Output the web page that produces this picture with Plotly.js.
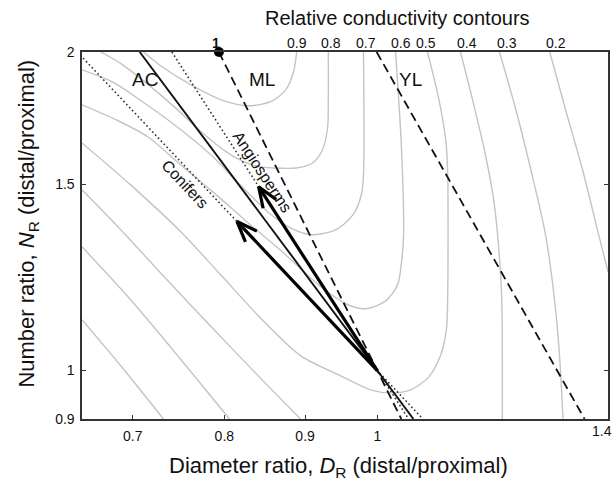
<!DOCTYPE html>
<html><head><meta charset="utf-8">
<script src="https://cdn.plot.ly/plotly-3.0.1.min.js"></script>
<style>html,body{margin:0;padding:0;background:#fff}#chart{width:615px;height:484px}</style>
</head><body><div id="chart"></div>
<script>
// ---- axes ----
const xRange = [0.65, 1.4];
const yRange = [0.9, 2];
const xTickVals = [0.7, 0.8, 0.9, 1, 1.4];
const xTickText = ['0.7', '0.8', '0.9', '1', ''];
const xEdgeLabel = '1.4';   // last x tick label, drawn right-aligned at the plot edge
const yTickVals = [0.9, 1, 1.5, 2];
const yTickText = ['0.9', '1', '1.5', '2'];

// ---- relative conductivity contours ----
const c09X = [0.711, 0.729, 0.762, 0.799, 0.828, 0.856, 0.875, 0.885, 0.889];
const c09Y = [2.0, 1.941, 1.862, 1.799, 1.779, 1.795, 1.842, 1.916, 2.0];
const c08X = [0.668, 0.688, 0.715, 0.745, 0.773, 0.807, 0.837, 0.860, 0.888, 0.910, 0.923, 0.930, 0.931, 0.931];
const c08Y = [2.0, 1.950, 1.866, 1.771, 1.682, 1.600, 1.561, 1.554, 1.554, 1.571, 1.616, 1.696, 1.803, 2.0];
const c07X = [0.650, 0.679, 0.713, 0.748, 0.784, 0.819, 0.852, 0.881, 0.907, 0.941, 0.965, 0.977, 0.980, 0.980];
const c07Y = [1.924, 1.875, 1.787, 1.696, 1.600, 1.497, 1.413, 1.364, 1.344, 1.358, 1.403, 1.466, 1.531, 2.0];
const c06X = [0.650, 0.683, 0.715, 0.751, 0.788, 0.831, 0.868, 0.921, 0.958, 0.983, 1.012, 1.030, 1.036, 1.039, 1.036, 1.027];
const c06Y = [1.783, 1.726, 1.664, 1.564, 1.472, 1.373, 1.300, 1.200, 1.154, 1.144, 1.163, 1.205, 1.267, 1.344, 1.616, 2.0];
const c05X = [0.650, 0.698, 0.751, 0.796, 0.843, 0.894, 0.948, 0.990, 1.020, 1.050, 1.078, 1.097, 1.106, 1.108, 1.108, 1.105, 1.094, 1.076];
const c05Y = [1.641, 1.497, 1.352, 1.231, 1.122, 1.033, 0.9885, 0.9589, 0.9526, 0.9589, 0.9864, 1.035, 1.093, 1.166, 1.541, 1.652, 1.803, 2.0];
const c04aX = [0.650, 0.688, 0.734, 0.784, 0.837, 0.894];
const c04aY = [1.482, 1.358, 1.223, 1.102, 0.995, 0.9];
const c04bX = [1.129, 1.149, 1.169, 1.185, 1.194, 1.199, 1.200];
const c04bY = [2.0, 1.803, 1.616, 1.450, 1.300, 1.166, 0.9];
const c03aX = [0.650, 0.698, 0.751, 0.806];
const c03aY = [1.309, 1.166, 1.024, 0.9];
const c03bX = [1.195, 1.224, 1.251, 1.278, 1.295, 1.305, 1.311];
const c03bY = [2.0, 1.764, 1.548, 1.344, 1.166, 1.024, 0.9];
const c02aX = [0.650, 0.688, 0.732];
const c02aY = [1.117, 1.010, 0.9];
const c02bX = [1.286, 1.316, 1.349, 1.381, 1.400];
const c02bY = [2.0, 1.764, 1.548, 1.344, 1.240];

const contourLabels = ['<b>1</b>', '0.9', '0.8', '0.7', '0.6', '0.5', '0.4', '0.3', '0.2'];
const contourLabelX = [0.790, 0.889, 0.934, 0.983, 1.035, 1.073, 1.139, 1.209, 1.297];

// ---- scaling rules & observed trends ----
const acX = [0.7071, 1.0541];   const acY = [2, 0.9];      // area-preserving
const mlX = [0.7937, 1.0357];   const mlY = [2, 0.9];      // Murray's law
const ylX = [0.999, 1.353];     const ylY = [2, 0.9];
const coniferX = [0.6456, 1.0688]; const coniferY = [2, 0.9];
const angioX = [0.741, 1.0467];    const angioY = [2, 0.9];
const optimumX = [0.7937]; const optimumY = [2];
const arrowBaseX = 1; const arrowBaseY = 1;
const arrowTipX = [0.841, 0.815];
const arrowTipY = [1.492, 1.383];

const W = 615, H = 484;
const M = {l: 82, r: 7, t: 52, b: 65};
const FONT = 'Liberation Sans, Arial, Helvetica, sans-serif';

const traces = [];
const contourColor = '#c4c4c4';
[[c09X,c09Y],[c08X,c08Y],[c07X,c07Y],[c06X,c06Y],[c05X,c05Y],[c04aX,c04aY],[c04bX,c04bY],
 [c03aX,c03aY],[c03bX,c03bY],[c02aX,c02aY],[c02bX,c02bY]].forEach(([x,y]) => {
  traces.push({x, y, type:'scatter', mode:'lines', hoverinfo:'skip',
    line:{color:contourColor, width:1.4, shape:'spline', smoothing:0.8}});
});
traces.push({x:coniferX, y:coniferY, mode:'lines', line:{color:'#333', width:1.6, dash:'1.6px,2.6px'}});
traces.push({x:angioX, y:angioY, mode:'lines', line:{color:'#333', width:1.6, dash:'1.6px,2.6px'}});
traces.push({x:acX, y:acY, mode:'lines', line:{color:'#111', width:1.9}});
traces.push({x:mlX, y:mlY, mode:'lines', line:{color:'#111', width:1.8, dash:'9px,5px'}});
traces.push({x:ylX, y:ylY, mode:'lines', line:{color:'#111', width:1.8, dash:'9px,5px'}});

// arrows: shafts + chevron heads (head geometry computed in screen space)
const plotW = W - M.l - M.r, plotH = H - M.t - M.b;
const lx0 = Math.log10(xRange[0]), lx1 = Math.log10(xRange[1]);
const ly0 = Math.log10(yRange[0]), ly1 = Math.log10(yRange[1]);
const toPx = (x, y) => [(Math.log10(x) - lx0) / (lx1 - lx0) * plotW, (Math.log10(y) - ly0) / (ly1 - ly0) * plotH];
const fromPx = (px, py) => [Math.pow(10, lx0 + px / plotW * (lx1 - lx0)), Math.pow(10, ly0 + py / plotH * (ly1 - ly0))];
const headLen = 22, headAng = 21 * Math.PI / 180;
arrowTipX.forEach((tx, i) => {
  const ty = arrowTipY[i];
  traces.push({x:[arrowBaseX, tx], y:[arrowBaseY, ty], mode:'lines', line:{color:'#000', width:3.2}});
  const [tpx, tpy] = toPx(tx, ty);
  const [bpx, bpy] = toPx(arrowBaseX, arrowBaseY);
  const len = Math.hypot(bpx - tpx, bpy - tpy);
  const ux = (bpx - tpx) / len, uy = (bpy - tpy) / len;
  const pts = [headAng, -headAng].map(a => {
    const rx = ux * Math.cos(a) - uy * Math.sin(a);
    const ry = ux * Math.sin(a) + uy * Math.cos(a);
    return fromPx(tpx + rx * headLen, tpy + ry * headLen);
  });
  traces.push({x:[pts[0][0], tx, pts[1][0]], y:[pts[0][1], ty, pts[1][1]], mode:'lines',
    line:{color:'#000', width:3.2}});
});
traces.push({x:optimumX, y:optimumY, mode:'markers', cliponaxis:false,
  marker:{color:'#000', size:10}});
traces.forEach(t => { t.type = 'scatter'; t.hoverinfo = 'skip'; t.showlegend = false; });

const annotations = [
  {text:'Relative conductivity contours', xref:'paper', yref:'paper', x:0.599, y:1.093,
   showarrow:false, font:{size:20}, xanchor:'center', yanchor:'middle'},
  {text:'Diameter ratio, <i>D</i><sub>R</sub> (distal/proximal)', xref:'paper', yref:'paper', x:0.487, y:-0.13,
   showarrow:false, font:{size:22}, xanchor:'center', yanchor:'middle'},
  {text:'Number ratio, <i>N</i><sub>R</sub> (distal/proximal)', xref:'paper', yref:'paper', x:-0.103, y:0.532,
   showarrow:false, font:{size:22}, textangle:-90, xanchor:'center', yanchor:'middle'},
  {text:'AC', xref:'paper', yref:'paper', x:0.0913, y:0.958, showarrow:false, font:{size:19}},
  {text:'ML', xref:'paper', yref:'paper', x:0.313, y:0.958, showarrow:false, font:{size:19}},
  {text:'YL', xref:'paper', yref:'paper', x:0.6236, y:0.958, showarrow:false, font:{size:19}},
  {text:'Angiosperms', xref:'paper', yref:'paper', x:0.275, y:0.801, showarrow:false, font:{size:16}, textangle:56.6},
  {text:'Conifers', xref:'paper', yref:'paper', x:0.1403, y:0.722, showarrow:false, font:{size:16}, textangle:46.7},
  {text:xEdgeLabel, xref:'paper', yref:'paper', x:1.0105, y:-0.034, showarrow:false, font:{size:14},
   xanchor:'right', yanchor:'middle', xshift:0}
];
contourLabels.forEach((t, i) => {
  annotations.push({text:t, xref:'x', yref:'paper', x:Math.log10(contourLabelX[i]), y:1.0245,
    showarrow:false, font:{size:14}, xanchor:'center', yanchor:'middle'});
});

const axisCommon = {type:'log', showgrid:false, zeroline:false, ticks:'inside', ticklen:4, tickwidth:1.2,
  tickcolor:'#333', showline:true, linecolor:'#333', linewidth:1.6, tickfont:{size:14, color:'#111'}};
const layout = {
  width:W, height:H, margin:M, paper_bgcolor:'#fff', plot_bgcolor:'#fff', showlegend:false,
  font:{family:FONT, color:'#111', size:14},
  xaxis:Object.assign({}, axisCommon, {range:[lx0, lx1], tickmode:'array', tickvals:xTickVals, ticktext:xTickText,
    mirror:true, ticklabelstandoff:4}),
  yaxis:Object.assign({}, axisCommon, {range:[ly0, ly1], tickmode:'array', tickvals:yTickVals, ticktext:yTickText,
    mirror:'ticks', ticklabelstandoff:3}),
  annotations
};
Plotly.newPlot('chart', traces, layout, {staticPlot:true, displayModeBar:false});
</script></body></html>
